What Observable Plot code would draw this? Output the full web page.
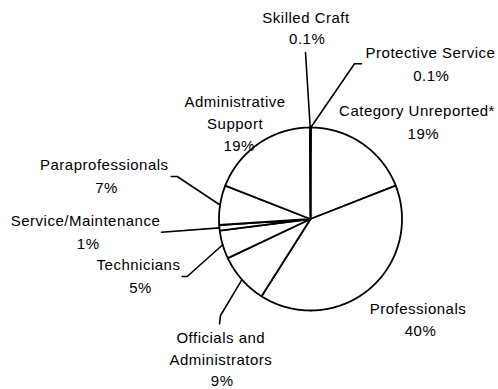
<!DOCTYPE html>
<html>
<head>
<meta charset="utf-8">
<script src="https://cdn.jsdelivr.net/npm/d3@7"></script>
<script src="https://cdn.jsdelivr.net/npm/@observablehq/plot@0.6"></script>
<style>
  html, body { margin: 0; padding: 0; background: white; }
</style>
</head>
<body>
<div id="chart"></div>
<script>
// ---- data ----
const categories = [
  "Protective Service",
  "Category Unreported",
  "Professionals",
  "Officials and Administrators",
  "Technicians",
  "Service/Maintenance",
  "Paraprofessionals",
  "Administrative Support",
  "Skilled Craft"
];
const values = [0.1, 19, 40, 9, 5, 1, 7, 19, 0.1];
const labelNames = [
  "Protective Service",
  "Category Unreported*",
  "Professionals",
  "Officials and\nAdministrators",
  "Technicians",
  "Service/Maintenance",
  "Paraprofessionals",
  "Administrative\nSupport",
  "Skilled Craft"
];

// ---- layout (pixels, relative to pie centre, screen y down) ----
const W = 498, H = 389;
const CX = 310, CY = 218.5, R = 91.5;
const FONT = 15, LH = 1.47;
// [dx, dy of cap-top] for the name block and for the percentage line
const nameOffsets = {
  "Protective Service": [120, -171.2],
  "Category Unreported": [106.5, -113.8],
  "Professionals": [107.5, 84.2],
  "Officials and Administrators": [-89.7, 113.8],
  "Technicians": [-172, 40.8],
  "Service/Maintenance": [-225, -3.5],
  "Paraprofessionals": [-206.2, -59.2],
  "Administrative Support": [-75.4, -122.8],
  "Skilled Craft": [-4.5, -206.8]
};
const pctOffsets = {
  "Protective Service": [120.8, -148.5],
  "Category Unreported": [112.8, -90.2],
  "Professionals": [110, 106.5],
  "Officials and Administrators": [-88.3, 156.8],
  "Technicians": [-170, 63.5],
  "Service/Maintenance": [-222.3, 19],
  "Paraprofessionals": [-204, -37],
  "Administrative Support": [-71.3, -78.5],
  "Skilled Craft": [-3.3, -185.2]
};
const leaderPaths = {
  "Skilled Craft": [[-5, -166.5]],
  "Protective Service": [[44, -155.2], [51, -155.2]],
  "Paraprofessionals": [[-133.3, -42.5], [-139.3, -42.5]],
  "Service/Maintenance": [[-149, 13.2]],
  "Technicians": [[-123.3, 57.5], [-128.3, 57.5]],
  "Officials and Administrators": [[-90, 96.5], [-91, 104.8]]
};

// ---- build geometry from values ----
const total = d3.sum(values);
const toRad = d => d * Math.PI / 180;
const polar = (deg, r) => ({x: r * Math.sin(toRad(deg)), y: r * Math.cos(toRad(deg))});

const slicePts = [];
const mids = {};
let acc = 0;
categories.forEach((name, i) => {
  const a0 = acc / total * 360;
  acc += values[i];
  const a1 = acc / total * 360;
  mids[name] = (a0 + a1) / 2;
  slicePts.push({id: name, x: 0, y: 0});
  const n = Math.max(1, Math.ceil((a1 - a0) / 0.5));
  for (let k = 0; k <= n; k++) {
    const p = polar(a0 + (a1 - a0) * k / n, R);
    slicePts.push({id: name, ...p});
  }
  slicePts.push({id: name, x: 0, y: 0});
});

const leaderPts = [];
Object.entries(leaderPaths).forEach(([name, pts]) => {
  const s = polar(mids[name], R);
  leaderPts.push({id: name, ...s});
  pts.forEach(([dx, dy]) => leaderPts.push({id: name, x: dx, y: -dy}));
});

const nameLabels = categories.map((name, i) => ({
  text: labelNames[i],
  x: nameOffsets[name][0],
  y: -nameOffsets[name][1]
}));
const pctLabels = categories.map((name, i) => ({
  text: values[i] + "%",
  x: pctOffsets[name][0],
  y: -pctOffsets[name][1]
}));

const textStyle = {
  x: "x", y: "y", text: "text",
  lineAnchor: "top", textAnchor: "middle",
  fontSize: FONT, fontFamily: "Liberation Sans, Arial, sans-serif", fill: "black"
};

const chart = Plot.plot({
  width: W,
  height: H,
  margin: 0,
  x: {domain: [-CX, W - CX], axis: null},
  y: {domain: [-(H - CY), CY], axis: null},
  style: {background: "white", letterSpacing: "0.5px"},
  marks: [
    Plot.line(slicePts, {x: "x", y: "y", z: "id", fill: "white", stroke: "black", strokeWidth: 1.8, strokeLinejoin: "round"}),
    Plot.line(leaderPts, {x: "x", y: "y", z: "id", stroke: "black", strokeWidth: 1.6}),
    Plot.text(nameLabels, {...textStyle, lineHeight: LH, dy: -0.71 * (LH - 1) * FONT}),
    Plot.text(pctLabels, {...textStyle, lineHeight: 1})
  ]
});
document.getElementById("chart").appendChild(chart);
</script>
</body>
</html>
